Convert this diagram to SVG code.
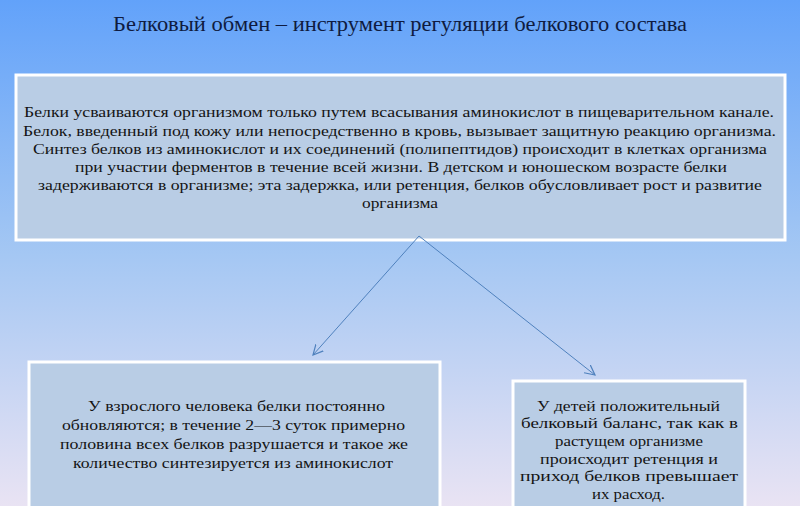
<svg xmlns="http://www.w3.org/2000/svg" width="800" height="506" viewBox="0 0 800 506">
<defs>
<linearGradient id="bg" x1="0" y1="0" x2="0" y2="1">
<stop offset="0" stop-color="#62a2fa"/>
<stop offset="0.5" stop-color="#a4c7f3"/>
<stop offset="1" stop-color="#e9e3f3"/>
</linearGradient>
<marker id="arr" markerWidth="12" markerHeight="12" refX="10" refY="5" orient="auto" markerUnits="userSpaceOnUse" viewBox="0 0 12 10">
<path d="M0,0 L10,5 L0,10" fill="none" stroke="#4f81bd" stroke-width="1.2"/>
</marker>
<style>
.box{fill:#b9cde5;stroke:#ffffff;stroke-width:3}
.t{font-family:'Liberation Serif','DejaVu Serif',serif;font-size:15.5px;fill:#141414;text-anchor:middle}
.title{font-family:'Liberation Serif','DejaVu Serif',serif;font-size:20px;fill:#0f1b40;text-anchor:middle}
.conn{stroke:#4f81bd;stroke-width:1;fill:none}
</style>
</defs>
<rect x="0" y="0" width="800" height="506" fill="url(#bg)"/>
<text class="title" x="400" y="31" textLength="574" lengthAdjust="spacingAndGlyphs">Белковый обмен – инструмент регуляции белкового состава</text>
<g id="node-main">
<rect class="box" x="16" y="75" width="769" height="165"/>
<text class="t" x="399" y="117" textLength="750" lengthAdjust="spacingAndGlyphs">Белки усваиваются организмом только путем всасывания аминокислот в пищеварительном канале.</text>
<text class="t" x="399.5" y="135.5" textLength="753" lengthAdjust="spacingAndGlyphs">Белок, введенный под кожу или непосредственно в кровь, вызывает защитную реакцию организма.</text>
<text class="t" x="400" y="154" textLength="734" lengthAdjust="spacingAndGlyphs">Синтез белков из аминокислот и их соединений (полипептидов) происходит в клетках организма</text>
<text class="t" x="401" y="172" textLength="652" lengthAdjust="spacingAndGlyphs">при участии ферментов в течение всей жизни. В детском и юношеском возрасте белки</text>
<text class="t" x="400" y="190" textLength="724" lengthAdjust="spacingAndGlyphs">задерживаются в организме; эта задержка, или ретенция, белков обусловливает рост и развитие</text>
<text class="t" x="400" y="208" textLength="76" lengthAdjust="spacingAndGlyphs">организма</text>
</g>
<g id="node-adult">
<rect class="box" x="29" y="362" width="411" height="160"/>
<text class="t" x="236.5" y="411" textLength="297" lengthAdjust="spacingAndGlyphs">У взрослого человека белки постоянно</text>
<text class="t" x="233.5" y="430" textLength="343" lengthAdjust="spacingAndGlyphs">обновляются; в течение 2—3 суток примерно</text>
<text class="t" x="234" y="449" textLength="348" lengthAdjust="spacingAndGlyphs">половина всех белков разрушается и такое же</text>
<text class="t" x="233" y="467.5" textLength="320" lengthAdjust="spacingAndGlyphs">количество синтезируется  из аминокислот</text>
</g>
<g id="node-children">
<rect class="box" x="513" y="381" width="232" height="140"/>
<text class="t" x="628.5" y="410.5" textLength="183" lengthAdjust="spacingAndGlyphs">У детей положительный</text>
<text class="t" x="629.5" y="428" textLength="217" lengthAdjust="spacingAndGlyphs">белковый баланс, так как в</text>
<text class="t" x="629" y="446" textLength="148" lengthAdjust="spacingAndGlyphs">растущем организме</text>
<text class="t" x="629" y="463.5" textLength="178" lengthAdjust="spacingAndGlyphs">происходит ретенция  и</text>
<text class="t" x="629" y="481" textLength="218" lengthAdjust="spacingAndGlyphs">приход белков превышает</text>
<text class="t" x="628.5" y="498.5" textLength="73" lengthAdjust="spacingAndGlyphs">их расход.</text>
</g>
<g id="connectors">
<line class="conn" x1="419" y1="236" x2="313" y2="355" marker-end="url(#arr)"/>
<line class="conn" x1="419" y1="236" x2="595" y2="375" marker-end="url(#arr)"/>
</g>
</svg>
